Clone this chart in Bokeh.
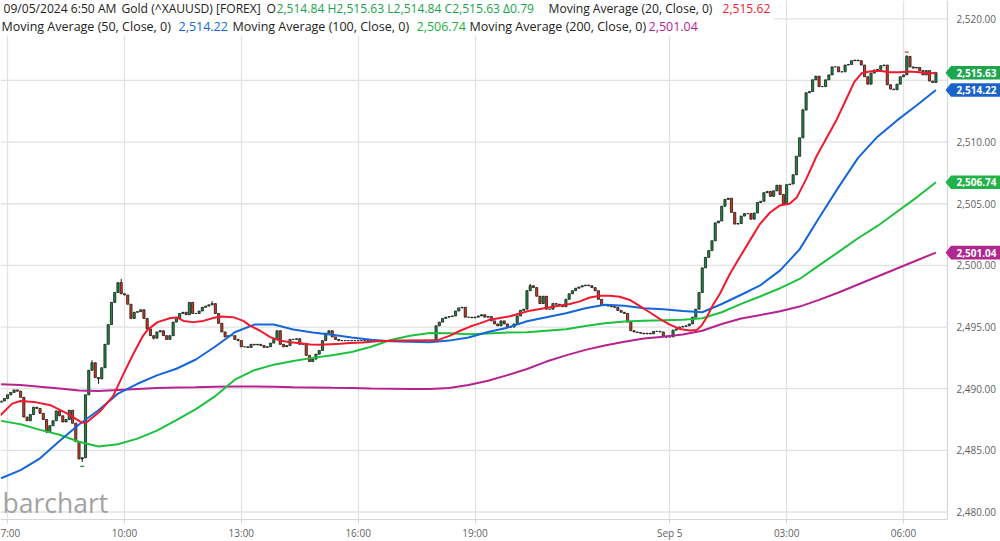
from bokeh.plotting import figure
from bokeh.models import (Range1d, FixedTicker, Label, BoxAnnotation, Span, ColumnDataSource)
from bokeh.core.properties import value
from bokeh.embed import file_html
from bokeh.resources import INLINE

# ---------------- data (5-minute candles, bar 0 = 07:00) ----------------
first_bar = -2
first_open = 2488.9
closes = [
    2489.0, 2489.2, 2489.5, 2489.7, 2489.9, 2489.8, 2489.3, 2487.7, 2487.4, 2487.9,
    2488.5, 2488.4, 2488.0, 2487.5, 2486.5, 2487.0, 2487.4, 2488.2, 2487.8, 2487.3,
    2487.5, 2488.25, 2487.2, 2485.7, 2484.3, 2484.4, 2489.5, 2491.5, 2492.1, 2490.9,
    2490.8, 2491.7, 2493.6, 2495.2, 2497.0, 2497.8, 2498.6, 2497.7, 2497.6, 2496.85,
    2495.7, 2496.2, 2496.25, 2496.4, 2495.7, 2494.85, 2494.3, 2494.1, 2494.6, 2494.7,
    2494.3, 2494.0, 2494.3, 2495.4, 2495.7, 2496.1, 2496.2, 2496.0, 2497.0, 2496.1,
    2496.1, 2496.3, 2496.6, 2496.7, 2496.8, 2496.9, 2496.1, 2495.3, 2494.6, 2494.2,
    2494.3, 2494.3, 2494.0, 2493.9, 2493.4, 2493.4, 2493.35, 2493.6, 2493.55, 2493.6,
    2493.5, 2493.35, 2493.4, 2493.7, 2494.0, 2494.7, 2493.6, 2493.4, 2493.5, 2494.0,
    2494.0, 2494.05, 2493.6, 2493.6, 2492.7, 2492.2, 2492.4, 2492.8, 2493.1, 2493.9,
    2494.5, 2494.7, 2494.2, 2494.0, 2493.9, 2493.9, 2493.9, 2493.9, 2493.9, 2493.9,
    2493.9, 2493.9, 2493.9, 2493.9, 2493.9, 2493.9, 2493.9, 2493.9, 2493.9, 2493.9,
    2493.9, 2493.9, 2493.9, 2493.9, 2493.9, 2493.9, 2493.9, 2493.9, 2493.9, 2493.9,
    2493.9, 2493.9, 2493.9, 2493.9, 2495.1, 2495.4, 2495.7, 2495.8, 2495.85, 2495.9,
    2496.3, 2496.55, 2496.6, 2495.8, 2495.8, 2495.75, 2495.8, 2495.9, 2496.0, 2495.8,
    2495.85, 2495.5, 2495.25, 2495.1, 2495.5, 2495.25, 2495.0, 2495.0, 2495.25, 2495.9,
    2496.35, 2496.45, 2497.95, 2498.35, 2498.2, 2497.5, 2496.9, 2497.5, 2496.45, 2496.45,
    2496.9, 2496.85, 2496.75, 2496.65, 2497.25, 2497.7, 2497.95, 2498.15, 2498.25, 2498.35,
    2498.4, 2498.35, 2498.2, 2497.95, 2497.25, 2496.75, 2496.75, 2496.7, 2496.65, 2496.6,
    2496.35, 2496.2, 2496.1, 2495.4, 2494.7, 2494.6, 2494.55, 2494.5, 2494.45, 2494.5,
    2494.45, 2494.65, 2494.65, 2494.6, 2494.25, 2494.2, 2494.2, 2494.75, 2494.85, 2495.0,
    2495.05, 2495.1, 2495.25, 2495.8, 2496.45, 2497.8, 2499.8, 2500.65, 2501.2, 2502.0,
    2503.45, 2503.6, 2504.8, 2505.35, 2505.45, 2504.3, 2503.35, 2503.4, 2504.0, 2504.2,
    2504.2, 2503.75, 2504.25, 2505.1, 2505.2, 2505.9, 2506.0, 2505.6, 2506.05, 2506.5,
    2505.75, 2504.95, 2506.55, 2506.6, 2507.35, 2508.85, 2510.35, 2512.6, 2514.0, 2514.1,
    2515.05, 2515.35, 2514.5, 2514.5, 2515.05, 2515.45, 2516.1, 2516.1, 2515.7, 2515.7,
    2516.25, 2516.3, 2516.6, 2516.65, 2516.6, 2516.25, 2515.3, 2514.7, 2515.6, 2515.85,
    2515.9, 2516.2, 2516.25, 2514.65, 2514.3, 2514.25, 2514.7, 2515.3, 2515.45, 2516.95,
    2516.1, 2516.0, 2516.05, 2515.8, 2515.45, 2515.8, 2514.95, 2514.84, 2515.63,
]
# wick extremes that reach beyond the candle bodies (bar -> price)
wick_high = {26: 2492.3, 35: 2498.9, 63: 2497.1, 161: 2498.5, 245: 2512.7, 277: 2517.05}
wick_low = {12: 2486.4, 23: 2484.05, 28: 2490.4, 45: 2494.0, 203: 2494.1}
low_mark = (23, 2483.7)
high_mark = (277, 2517.3)

# moving averages
ma_bars = [-2, 4, 10, 16, 22, 28, 34, 40, 46, 52, 58, 64, 70, 76, 82, 88, 94, 100,
           106, 112, 118, 124, 130, 136, 142, 148, 154, 160, 166, 172, 178, 184, 190,
           196, 202, 208, 214, 220, 226, 232, 238, 244, 250, 256, 262, 268, 274, 280, 286]
ma50 = [2482.74, 2483.4, 2484.35, 2485.75, 2487.1, 2488.25, 2489.6, 2490.4, 2491.08,
        2491.62, 2492.37, 2493.42, 2494.58, 2495.2, 2495.2, 2494.8, 2494.56, 2494.37,
        2494.15, 2493.97, 2493.85, 2493.8, 2493.77, 2493.9, 2494.15, 2494.6, 2494.95,
        2495.47, 2495.8, 2496.12, 2496.52, 2496.8, 2496.72, 2496.52, 2496.44, 2496.3,
        2496.2, 2496.87, 2497.62, 2498.4, 2499.6, 2501.3, 2503.87, 2506.35, 2508.72,
        2510.44, 2511.76, 2512.97, 2514.22]
ma100 = [2487.39, 2487.12, 2486.66, 2486.26, 2485.7, 2485.32, 2485.5, 2485.95, 2486.6,
         2487.46, 2488.35, 2489.4, 2490.73, 2491.5, 2491.95, 2492.25, 2492.5, 2492.72,
         2492.98, 2493.4, 2493.95, 2494.3, 2494.52, 2494.5, 2494.42, 2494.47, 2494.55,
         2494.58, 2494.7, 2494.82, 2495.08, 2495.3, 2495.45, 2495.52, 2495.55, 2495.6,
         2495.72, 2496.2, 2496.88, 2497.5, 2498.15, 2498.9, 2500.0, 2501.1, 2502.2,
         2503.2, 2504.35, 2505.5, 2506.74]
ma200 = [2490.36, 2490.3, 2490.15, 2490.02, 2489.85, 2489.82, 2489.9, 2489.98, 2490.05,
         2490.1, 2490.12, 2490.15, 2490.17, 2490.18, 2490.15, 2490.12, 2490.1, 2490.07,
         2490.05, 2490.02, 2490.0, 2489.98, 2489.97, 2490.05, 2490.3, 2490.65, 2491.1,
         2491.6, 2492.2, 2492.7, 2493.15, 2493.5, 2493.8, 2494.08, 2494.22, 2494.4,
         2494.7, 2495.25, 2495.7, 2495.98, 2496.28, 2496.66, 2497.2, 2497.8, 2498.45,
         2499.1, 2499.75, 2500.4, 2501.04]
ma20_bars = [-2.2, 1.4, 4.0, 8.1, 13.2, 18.4, 23.0, 24.5, 28.6, 32.5, 35.7, 38.8, 41.5,
             43.1, 46.2, 50.2, 52.3, 54.2, 57.2, 60.3, 63.4, 65.5, 69.5, 72.6, 74.8, 77.8,
             80.9, 84.0, 87.1, 90.2, 93.2, 96.3, 99.4, 102.5, 105.5, 109.5, 113.8, 121.0,
             132.3, 136.3, 139.4, 142.5, 145.5, 148.6, 151.7, 154.8, 157.8, 160.9, 164.0,
             167.1, 170.2, 173.2, 176.3, 179.4, 182.5, 185.5, 188.6, 191.7, 194.8, 197.8,
             200.9, 204.0, 207.1, 210.2, 212.3, 213.8, 215.4, 217.2, 219.4, 222.5, 225.5,
             228.6, 231.7, 234.8, 237.8, 240.9, 243.1, 246.2, 249.2, 252.3, 255.4, 258.5,
             260.9, 263.1, 265.5, 268.6, 271.7, 274.8, 277.8, 280.9, 284.0, 286.0]
ma20 = [2487.85, 2488.79, 2489.0, 2488.93, 2488.66, 2487.98, 2487.23, 2487.3, 2488.2,
        2489.4, 2491.2, 2492.86, 2494.2, 2494.77, 2495.4, 2495.74, 2495.77, 2495.5,
        2495.4, 2495.5, 2495.74, 2495.85, 2495.8, 2495.5, 2495.1, 2494.7, 2494.18,
        2493.9, 2493.77, 2493.69, 2493.59, 2493.56, 2493.6, 2493.64, 2493.7, 2493.75,
        2493.85, 2493.9, 2493.92, 2494.3, 2494.7, 2495.04, 2495.3, 2495.6, 2495.74,
        2495.88, 2496.1, 2496.33, 2496.47, 2496.6, 2496.74, 2496.87, 2497.08, 2497.4,
        2497.54, 2497.54, 2497.46, 2497.2, 2496.7, 2496.2, 2495.66, 2495.2, 2494.85,
        2494.72, 2494.77, 2495.12, 2495.8, 2496.74, 2497.68, 2499.3, 2500.64, 2501.99,
        2503.33, 2504.27, 2504.85, 2505.0, 2505.5, 2507.1, 2508.85, 2510.33, 2511.82,
        2513.56, 2514.9, 2515.58, 2515.72, 2515.78, 2515.66, 2515.66, 2515.72, 2515.66,
        2515.56, 2515.62]

tick_hours = [0, 3, 6, 9, 12, 17, 20, 23]          # hours after 07:00
tick_labels = ["7:00", "10:00", "13:00", "16:00", "19:00", "Sep 5", "03:00", "06:00"]
y_ticks = [2480, 2485, 2490, 2495, 2500, 2505, 2510, 2515, 2520]

header_row1 = [("09/05/2024 6:50 AM", "#222222", 3), ("Gold (^XAUUSD) [FOREX]", "#222222", 121),
               ("O", "#222222", 266), ("2,514.84 H2,515.63 L2,514.84 C2,515.63 \u03940.79", "#1aa34a", 276),
               ("Moving Average (20, Close, 0)", "#222222", 548), ("2,515.62", "#ee1c2e", 722)]
header_row2 = [("Moving Average (50, Close, 0)", "#222222", 1), ("2,514.22", "#1565d8", 178),
               ("Moving Average (100, Close, 0)", "#222222", 232), ("2,506.74", "#19b33f", 416),
               ("Moving Average (200, Close, 0)", "#222222", 469), ("2,501.04", "#b5229a", 648)]

# ---------------- styling / layout constants ----------------
UP, DOWN = "#1c8f42", "#d8391f"
C20, C50, C100, C200 = "#f0192e", "#1566d6", "#1ec03f", "#b6238f"
BAR_PX = 3.246
FRAME_W, FRAME_H = 1000, 519
PLOT_RIGHT = 947          # right edge of the price area (pixels)
PX_PER_UNIT = 12.33
X0 = -7.1 / BAR_PX
Y_TOP = 2520 + 18.3 / PX_PER_UNIT
FONT = "Open Sans"
GRID = "#e2e2e2"
BORDER = "#d6d6d6"


def dx(px):
    return X0 + px / BAR_PX


def dy(py):
    return Y_TOP - py / PX_PER_UNIT


bars = list(range(first_bar, first_bar + len(closes)))
opens = [first_open] + closes[:-1]
tops = [max(o, c) for o, c in zip(opens, closes)]
bottoms = [min(o, c) for o, c in zip(opens, closes)]
highs = [wick_high.get(b, t) for b, t in zip(bars, tops)]
lows = [wick_low.get(b, m) for b, m in zip(bars, bottoms)]
colors = [UP if c >= o else DOWN for o, c in zip(opens, closes)]

src = ColumnDataSource(dict(x=bars, top=tops, bottom=bottoms, high=highs, low=lows, color=colors))

y_bottom = Y_TOP - FRAME_H / PX_PER_UNIT
p = figure(frame_width=FRAME_W, frame_height=FRAME_H, output_backend="svg", toolbar_location=None,
           x_range=Range1d(X0, dx(FRAME_W)), y_range=Range1d(y_bottom, Y_TOP),
           y_axis_location=None, min_border_left=0, min_border_top=0, min_border_right=0,
           min_border_bottom=22, background_fill_color="white", border_fill_color="white")
p.outline_line_color = None

tick_bars = [h * 12 for h in tick_hours]
p.xaxis.ticker = FixedTicker(ticks=tick_bars)
p.xaxis.major_label_overrides = {b: l for b, l in zip(tick_bars, tick_labels)}
p.xaxis.bounds = (X0, dx(PLOT_RIGHT))
p.xaxis.axis_line_color = BORDER
p.xaxis.major_tick_line_color = BORDER
p.xaxis.minor_tick_line_color = None
p.xaxis.major_tick_in = 0
p.xaxis.major_tick_out = 4
p.xaxis.major_label_standoff = 2
p.xaxis.major_label_text_font = FONT
p.xaxis.major_label_text_font_size = "10px"
p.xaxis.major_label_text_color = "#5f5f5f"
p.xgrid.ticker = FixedTicker(ticks=tick_bars)
p.xgrid.grid_line_color = GRID
p.xgrid.grid_line_width = 1.3
p.ygrid.visible = False

# value tags on the price scale: last close and the longer moving averages
tags = [(closes[-1], "#1ea64e"), (ma50[-1], "#1b63c9"), (ma100[-1], "#21b24a"), (ma200[-1], "#b0288f")]
half = 6.8 / PX_PER_UNIT

# price grid lines and price scale (right side); a scale label hidden under a tag is skipped
p.segment(x0=[X0] * len(y_ticks), y0=y_ticks, x1=[dx(PLOT_RIGHT)] * len(y_ticks), y1=y_ticks,
          line_color=GRID, line_width=1.3, level="underlay")
p.add_layout(Span(location=dx(PLOT_RIGHT), dimension="height", line_color=BORDER, line_width=1.2,
                  level="underlay"))
shown = [t for t in y_ticks if all(abs(t - v) * PX_PER_UNIT > 9 for v, c in tags)]
p.text(x=[dx(956)] * len(shown), y=shown, text=[f"{t:,.2f}" for t in shown],
       text_font=value(FONT), text_font_size="10px", text_color="#5f5f5f",
       text_align="left", text_baseline="middle")

# candles
p.segment(x0="x", y0="low", x1="x", y1="high", source=src, line_color="#1b1b1b", line_width=1)
p.vbar(x="x", top="top", bottom="bottom", width=0.66, source=src, fill_color="color",
       line_color="#1b1b1b", line_width=0.8)
p.scatter([low_mark[0]], [low_mark[1]], marker="dash", size=4, line_color=UP, line_width=1.2)
p.scatter([high_mark[0]], [high_mark[1]], marker="dash", size=4, line_color=DOWN, line_width=1.2)

# moving averages
p.line(ma_bars, ma200, line_color=C200, line_width=2)
p.line(ma_bars, ma100, line_color=C100, line_width=2)
p.line(ma_bars, ma50, line_color=C50, line_width=2)
p.line(ma20_bars, ma20, line_color=C20, line_width=2)

p.patches(xs=[[dx(945), dx(950.5), dx(1000), dx(1000), dx(950.5)] for v, c in tags],
          ys=[[v, v + half, v + half, v - half, v - half] for v, c in tags],
          fill_color=[c for v, c in tags], line_color=None)
p.text(x=[dx(976)] * len(tags), y=[v for v, c in tags], text=[f"{v:,.2f}" for v, c in tags],
       text_font=value(FONT), text_font_size="10px", text_font_style="bold", text_color="white",
       text_align="center", text_baseline="middle")

# header (white boxes under the text rows)
p.add_layout(BoxAnnotation(left=dx(-2), right=dx(773), top=dy(-2), bottom=dy(19.5),
                           fill_color="white", fill_alpha=1, line_color=None))
p.add_layout(BoxAnnotation(left=dx(-2), right=dx(700), top=dy(18), bottom=dy(35),
                           fill_color="white", fill_alpha=1, line_color=None))
for row, mid, size in ((header_row1, 8.3, "12.1px"), (header_row2, 26.3, "12.5px")):
    for txt, col, px in row:
        p.add_layout(Label(x=dx(px), y=dy(mid), text=txt, text_color=col, text_font=FONT,
                           text_font_size=size, text_baseline="middle", text_align="left"))

# watermark
p.add_layout(Label(x=dx(2), y=dy(502), text="barchart", text_color="#a3a3a3", text_font=FONT,
                   text_font_size="26.5px", text_baseline="middle", text_align="left"))

open("out.html", "w").write(file_html(p, INLINE))
